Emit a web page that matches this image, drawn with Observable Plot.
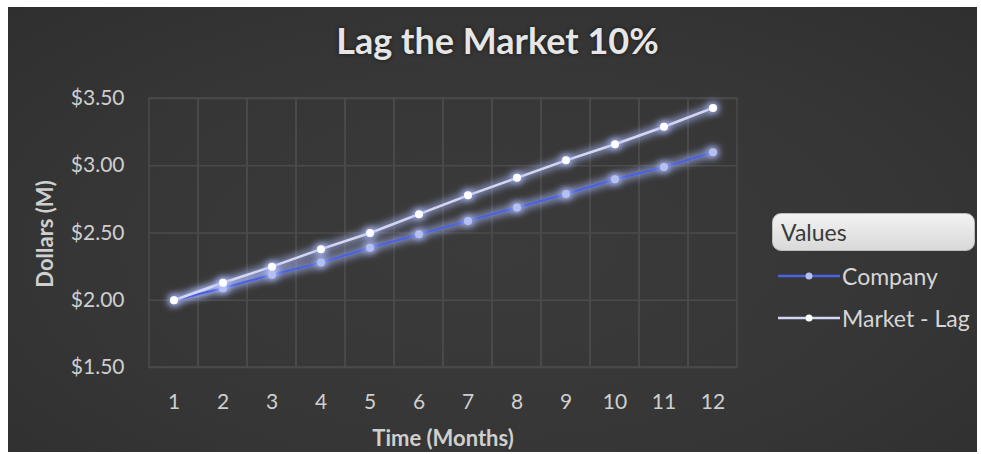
<!DOCTYPE html>
<html>
<head>
<meta charset="utf-8">
<script src="https://cdn.jsdelivr.net/npm/d3@7"></script>
<script src="https://cdn.jsdelivr.net/npm/@observablehq/plot@0.6"></script>
<style>
  html, body { margin: 0; padding: 0; background: #ffffff; }
  #wrap { position: relative; width: 981px; height: 454px; overflow: hidden; font-family: Lato, "Open Sans", sans-serif; }
  #bg { position: absolute; left: 8px; top: 7px; width: 969px; height: 445px;
        background: radial-gradient(ellipse at 50% 55%, #3b3b3b 0%, #363636 60%, #2f2f2f 100%); }
  #chart { position: absolute; left: 0; top: 0; }
  #title { position: absolute; left: 7px; width: 981px; top: 18px; text-align: center; color: #e6e6e6;
           font-weight: 700; font-size: 36px; line-height: 44px; text-shadow: 0 0 4px rgba(0,0,0,0.6); }
  #ylab { position: absolute; left: 44px; top: 234px; transform: translate(-50%, -50%) rotate(-90deg);
          color: #cfcfcf; font-weight: 700; font-size: 22px; white-space: nowrap; }
  #xlab { position: absolute; left: 443px; top: 437px; transform: translate(-50%, -50%);
          color: #cfcfcf; font-weight: 700; font-size: 22px; white-space: nowrap; }
  #legbox { position: absolute; left: 772px; top: 213px; width: 203px; height: 38px; border-radius: 9px;
            background: linear-gradient(#f2f2f2, #d9d9d9); box-sizing: border-box; border: 1px solid #bdbdbd; }
  #legbox span { position: absolute; left: 8px; top: 4px; font-size: 23px; color: #3a3a3a; }
  .leg { position: absolute; left: 778px; height: 28px; display: flex; align-items: center; color: #d6d6d6; font-size: 23px; }
  .leg svg { margin-right: 2px; }
</style>
</head>
<body>
<div id="wrap">
  <div id="bg"></div>
  <div id="chart"></div>
  <div id="title">Lag the Market 10%</div>
  <div id="ylab">Dollars (M)</div>
  <div id="xlab">Time (Months)</div>
  <div id="legbox"><span>Values</span></div>
  <div class="leg" style="top:262px"><svg width="62" height="10"><line x1="0" y1="5" x2="62" y2="5" stroke="#4a63e0" stroke-width="2.5"/><circle cx="31" cy="5" r="3.5" fill="#b4c0f2"/></svg>Company</div>
  <div class="leg" style="top:304px"><svg width="62" height="10"><line x1="0" y1="5" x2="62" y2="5" stroke="#d4d8f4" stroke-width="2.5"/><circle cx="31" cy="5" r="3.5" fill="#ffffff"/></svg>Market - Lag</div>
</div>
<script>
const months = [1, 2, 3, 4, 5, 6, 7, 8, 9, 10, 11, 12];
const company = [2.00, 2.09, 2.19, 2.28, 2.39, 2.49, 2.59, 2.69, 2.79, 2.90, 2.99, 3.10];
const marketLag = [2.00, 2.13, 2.25, 2.38, 2.50, 2.64, 2.78, 2.91, 3.04, 3.16, 3.29, 3.43];
const yTicks = [1.5, 2.0, 2.5, 3.0, 3.5];
const seriesNames = ["Company", "Market - Lag"];

const rows = [];
months.forEach((m, i) => {
  rows.push({month: m, value: company[i], series: seriesNames[0]});
  rows.push({month: m, value: marketLag[i], series: seriesNames[1]});
});

const chart = Plot.plot({
  width: 981,
  height: 454,
  marginTop: 98,
  marginBottom: 87,
  marginLeft: 148,
  marginRight: 244,
  style: { background: "transparent", color: "#cfcfcf", fontFamily: "Lato, 'Open Sans', sans-serif", fontSize: "21px", overflow: "visible" },
  x: { type: "band", domain: months, padding: 0, label: null, tickSize: 0, tickPadding: 27 },
  y: { domain: [1.5, 3.5], ticks: yTicks, tickFormat: d => "$" + d.toFixed(2), label: null, tickSize: 0, tickPadding: 24 },
  color: { domain: seriesNames, range: ["#4a63e0", "#d4d8f4"] },
  marks: [
    Plot.ruleY(yTicks, { stroke: "#4b4b4b", strokeWidth: 1.5 }),
    Plot.cell(months, { x: d => d, fill: "none", stroke: "#4b4b4b", strokeWidth: 1.5 }),
    Plot.line(rows, { x: "month", y: "value", z: "series", stroke: "series", strokeWidth: 2.5 }),
    Plot.dot(rows, { x: "month", y: "value", r: 4, fill: d => d.series === seriesNames[0] ? "#b4c0f2" : "#ffffff", stroke: "none" })
  ]
});

// glow effect for lines and points
const svg = d3.select(chart);
const defs = svg.insert("defs", ":first-child");
const f = defs.append("filter").attr("id", "glow").attr("x", "-20%").attr("y", "-20%").attr("width", "140%").attr("height", "140%");
f.append("feGaussianBlur").attr("in", "SourceGraphic").attr("stdDeviation", 4).attr("result", "blur");
f.append("feColorMatrix").attr("in", "blur").attr("type", "matrix")
  .attr("values", "0 0 0 0 0.42  0 0 0 0 0.5  0 0 0 0 1  0 0 0 2 0").attr("result", "glowc");
const m = f.append("feMerge");
m.append("feMergeNode").attr("in", "glowc");
m.append("feMergeNode").attr("in", "SourceGraphic");
svg.selectAll('g[aria-label="line"], g[aria-label="dot"]').attr("filter", "url(#glow)");

document.getElementById("chart").appendChild(chart);
</script>
</body>
</html>
